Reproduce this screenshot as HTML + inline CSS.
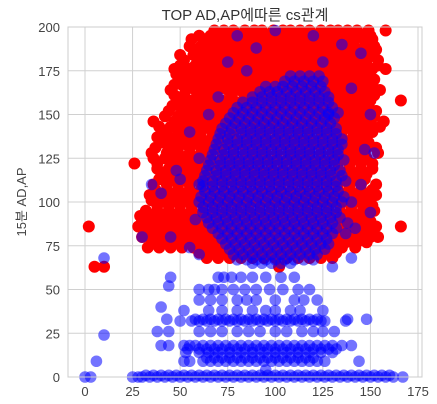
<!DOCTYPE html>
<html><head><meta charset="utf-8">
<style>
html,body{margin:0;padding:0;background:#fff;width:437px;height:404px;overflow:hidden}
svg{display:block;font-family:"Liberation Sans","Noto Sans CJK KR",sans-serif}
</style></head>
<body>
<svg id="chart" width="437" height="404" xmlns="http://www.w3.org/2000/svg">
<text x="245" y="20" text-anchor="middle" font-size="15" fill="#333">TOP AD,AP에따른 cs관계</text>
<text transform="translate(26,202) rotate(-90)" text-anchor="middle" font-size="13" fill="#444">15분 AD,AP</text>
<g id="grid"></g>
<g id="ticks"></g>
<g id="plot"></g>
<rect x="68" y="27" width="354" height="350" fill="none" stroke="#ccc" stroke-width="1"/>
</svg>
<script>
const xTicks=[0,25,50,75,100,125,150,175];
const yTicks=[0,25,50,75,100,125,150,175,200];
const redRows=[
[198,[68,73,78,84,89,93,99,104,108,113,118,124,129,133,138,143,149,158]],
[195,[60,66,71,76,82,87,92,97,103,108,113,119,124,130,135,140,145,150]],
[193,[56,63,69,74,79,85,90,95,101,106,111,116,121,127,132,137,142,147,151]],
[189,[55,61,66,71,77,82,87,93,98,104,109,114,120,125,131,136,141,147,152]],
[187,[58,64,68,73,80,84,91,96,100,107,112,117,123,128,133,138,144,150,153]],
[184,[50,57,63,69,75,80,86,91,97,102,108,113,119,124,130,135,141,146,151]],
[181,[52,60,66,71,77,83,88,94,99,105,110,116,121,126,132,137,143,148,154]],
[178,[50,58,64,69,75,81,86,92,98,103,109,114,120,125,131,136,142,148,154]],
[176,[47,55,61,67,72,78,84,89,95,101,106,112,117,123,128,134,139,145,151,158]],
[173,[48,53,59,65,70,76,82,87,93,99,104,110,115,121,126,132,138,143,149]],
[170,[50,56,62,68,73,79,85,90,96,102,107,113,118,124,129,135,141,146,152]],
[167,[47,51,56,61,67,72,78,84,89,95,100,106,112,117,123,128,134,140,145,151]],
[164,[45,53,58,64,70,75,81,87,92,98,103,109,115,120,126,131,137,142,148,155]],
[161,[47,52,59,64,69,77,84,90,95,101,106,112,118,123,129,134,140,146,152]],
[158,[49,55,61,66,72,78,83,89,94,100,106,111,117,122,128,134,139,145,150,166]],
[155,[46,53,58,64,69,75,81,86,92,97,103,109,114,120,125,131,137,143,149]],
[152,[44,51,57,63,68,74,80,85,91,96,102,108,113,119,124,130,136,141,147,153]],
[149,[42,49,55,61,67,72,78,84,89,95,100,106,112,117,123,129,135,140,146,152]],
[146,[36,47,53,59,65,70,76,82,87,93,99,104,110,116,121,127,133,138,144,150,157]],
[143,[39,45,51,57,63,68,74,80,86,91,97,103,108,114,119,125,131,137,143,149,155]],
[140,[42,49,55,61,67,72,78,84,89,95,101,106,112,118,124,129,135,141,147,151]],
[137,[38,44,50,56,61,67,73,78,84,90,95,101,106,112,118,124,130,135,141,146]],
[134,[40,46,52,58,64,69,75,81,86,92,98,104,109,115,121,126,132,138,143,149]],
[131,[37,44,49,55,61,67,72,78,84,89,95,101,107,113,118,124,130,136,142,148,153]],
[128,[35,43,49,55,61,66,72,78,84,90,95,101,107,112,118,124,130,135,141,147,154]],
[125,[36,42,48,54,60,66,72,78,84,89,95,101,107,113,118,124,130,136,142,148]],
[122,[26,38,45,51,57,63,69,75,81,86,92,98,104,110,115,121,127,133,139,145,151]],
[119,[38,44,50,56,62,68,74,80,86,92,98,104,110,116,121,127,133,139,145,151]],
[116,[41,47,53,59,65,71,77,83,89,95,101,107,112,118,124,130,136,142,148]],
[113,[39,45,51,57,63,69,75,81,87,93,99,105,111,117,123,129,135,141,147]],
[110,[36,43,49,55,61,67,73,79,85,91,97,103,109,115,121,127,133,139,145,153]],
[107,[37,43,49,55,61,67,73,79,85,91,97,103,109,115,121,127,133,139,145,151]],
[104,[34,40,46,52,58,64,70,76,82,88,94,100,106,112,118,124,130,136,142,148,153]],
[101,[35,41,47,53,59,65,71,77,83,89,95,101,107,113,119,125,131,137,143,149]],
[98,[38,44,50,56,62,68,74,80,86,92,98,104,110,116,122,128,134,140,146,151]],
[95,[32,38,44,50,56,62,68,74,80,86,92,98,104,110,116,122,128,134,140,146,152]],
[92,[29,35,41,47,53,59,65,71,77,83,89,95,101,107,113,119,125,131,137,143,149]],
[89,[30,36,42,48,54,60,66,72,78,84,90,96,102,108,114,120,126,132,138,144,150]],
[86,[2,28,33,39,45,51,57,63,69,75,81,87,93,99,105,111,117,123,129,135,141,147,153,166]],
[83,[31,37,43,49,55,61,67,73,79,85,91,97,103,109,115,121,127,133,139,145,151]],
[80,[30,36,42,48,54,60,66,72,78,84,90,96,102,108,114,120,126,132,138,144,150,154]],
[77,[35,41,47,53,59,65,71,77,83,89,95,101,107,113,119,125,131,137,143,148]],
[74,[33,39,45,51,57,63,69,75,81,87,93,99,105,111,117,123,129,135,142]],
[71,[60,66,72,78,84,90,96,102,108,114,120,126,132]],
[68,[64,70,76,82,88,94,100,106,112,118,124,130]],
[63,[5,10,102]]
];
const blueRows=[
[172,[108,113,118,123]],
[169,[105,110,115,120,125]],
[166,[95,100,104,109,114,119,124]],
[163,[92,97,101,106,111,116,121,126]],
[160,[88,93,98,103,108,113,118,123,128]],
[157,[83,88,93,98,103,108,113,118,123,128]],
[154,[80,85,90,95,100,105,110,115,120,125,130]],
[151,[78,83,88,93,98,103,108,113,118,123,128,133]],
[148,[76,81,86,91,96,101,106,111,116,121,126,131]],
[145,[74,79,84,89,94,99,104,109,114,119,124,129]],
[142,[72,77,82,87,92,97,102,107,112,117,122,127,132]],
[139,[71,76,82,87,92,97,102,107,112,117,122,127,132]],
[136,[70,75,80,85,90,95,100,105,110,115,120,125,130,135]],
[133,[69,75,80,85,90,95,100,105,110,115,120,125,130,135]],
[130,[68,73,78,83,88,93,98,103,108,113,118,123,128,133]],
[127,[67,73,78,83,88,93,98,103,108,113,118,123,128,133]],
[124,[66,71,76,81,86,91,96,101,106,111,116,121,126,131,136]],
[121,[65,71,76,81,86,91,96,101,106,111,116,121,126,131]],
[118,[64,69,74,79,84,89,94,99,104,109,114,119,124,129,134]],
[115,[63,69,74,79,84,89,94,99,104,109,114,119,124,129,135]],
[112,[62,67,72,77,82,87,92,97,102,107,112,117,122,127,132,137]],
[109,[62,67,72,77,82,87,92,97,102,107,112,117,122,127,132]],
[106,[63,68,73,78,83,88,93,98,103,108,113,118,123,128,133]],
[103,[61,66,71,76,81,86,91,96,101,106,111,116,121,126,131,136]],
[100,[60,65,70,75,80,85,90,95,100,105,110,115,120,125,130,135]],
[97,[62,67,72,77,82,87,92,97,102,107,112,117,122,127,132]],
[94,[62,67,72,77,82,87,92,97,102,107,112,117,122,127,132]],
[91,[64,69,74,79,84,89,94,99,104,109,114,119,124,129,134]],
[88,[65,70,75,80,85,90,95,100,105,110,115,120,125,130,138]],
[85,[67,72,77,82,87,92,97,102,107,112,117,122,127,132]],
[82,[70,75,80,85,90,95,100,105,110,115,120,125,130,137]],
[79,[72,77,82,87,92,97,102,107,112,117,122,127]],
[76,[74,79,84,89,94,99,104,109,114,119,124,128]],
[73,[76,81,86,91,96,101,106,111,116,121,126]],
[70,[78,83,88,93,98,103,108,113,118,122]],
[67,[80,85,90,95,100,105,110,115,120]],
[65,[88,93,98,103,108]],
[57,[70,73,77,82,88,95,103,110]],
[50,[60,65,68,72,78,84,90,97,104,112,118]],
[44,[60,66,72,80,85,90,100,110,115,122]],
[38,[52,65,72,80,88,95,100,108,113,125]],
[33,[58,62,66,70,74,78,82,86,90,94,98,102,106,110,114,118,122]],
[32,[50,56,60,64,68,72,76,80,84,88,92,96,100,104,108,112,116,120,124,126,137]],
[26,[38,44,60,66,72,80,86,92,100,106,114,120,125,131]],
[18,[40,44,52,55,58,62,66,70,74,78,82,86,90,94,98,102,106,110,114,118,122,126,130,135,140]],
[16,[54,60,64,68,72,76,80,84,88,92,96,100,104,108,112,116,120,124,128,132]],
[14,[53,60,65,70,76,82,88,94,100,106,112,118,124,130]],
[11,[64,68,72,76,80,84,88,92,96,100,104,108,112,116,120]],
[9,[52,55,62,66,70,74,78,82,86,90,94,98,102,106,110,114,118,122,126,144]],
[4,[95]],
[0,[0,3,25,28,30,34,38,42,46,50,54,58,62,66,70,74,78,82,86,90,94,98,102,106,110,114,118,122,126,130,134,138,142,146,150,154,158,162,167]],
[1,[32,36,40,44,48,52,56,60,64,68,72,76,80,84,88,92,96,100,104,108,112,116,120,124,128,132,136,140,144,148,152,156,160]]
];
const blueSparseX=[55,60,48,40,35,45,30,10,10,6,40,43,45,44,60,75,80,90,100,120,135,145,140,150,147,152,150,148,138,140,130,55,60,58,50,140,145,142,85,125,128,65,70];
const blueSparseY=[140,125,118,105,110,80,80,68,24,9,40,33,57,52,110,180,195,188,198,195,190,185,165,150,130,128,94,33,33,68,63,74,70,90,113,100,110,85,175,180,150,150,160];

const NS="http://www.w3.org/2000/svg";
const L=68,R=422,T=27,B=377;
const xs=v=>85+v*(418-85)/175;
const ys=v=>B-v*(B-T)/200;
const grid=document.getElementById('grid'),ticks=document.getElementById('ticks'),plot=document.getElementById('plot');
function mk(tag,attrs,parent){const e=document.createElementNS(NS,tag);for(const k in attrs)e.setAttribute(k,attrs[k]);parent.appendChild(e);return e;}
xTicks.forEach(t=>{
  const g=mk('line',{x1:xs(t),x2:xs(t),y1:T,y2:B,stroke:'#d0d0d0'},grid);
  
  
  const tx=mk('text',{x:xs(t),y:396,'text-anchor':'middle','font-size':'13',fill:'#444'},ticks);
  tx.textContent=t;
  
  
});
yTicks.forEach(t=>{
  const g=mk('line',{x1:L,x2:R,y1:ys(t),y2:ys(t),stroke:'#d0d0d0'},grid);
  
  
  const tx=mk('text',{x:60,y:ys(t)+5,'text-anchor':'end','font-size':'13',fill:'#444'},ticks);
  tx.textContent=t;
  
  
});
const clip=mk('clipPath',{id:'pc'},document.getElementById('chart'));
mk('rect',{x:L,y:T-6,width:R-L+2,height:B-T+12},clip);
plot.setAttribute('clip-path','url(#pc)');
redRows.forEach(([y,xl])=>xl.forEach(x=>{
  const c=mk('circle',{cx:xs(x),cy:ys(y),r:6,fill:'#ff0000'},plot);
  
  
}));
blueRows.forEach(([y,xl])=>xl.forEach(x=>{
  const c=mk('circle',{cx:xs(x),cy:ys(y),r:5.8,fill:'#0000ff','fill-opacity':0.55},plot);
  
  
}));
blueSparseX.forEach((x,i)=>{
  const c=mk('circle',{cx:xs(x),cy:ys(blueSparseY[i]),r:5.8,fill:'#0000ff','fill-opacity':0.55},plot);
  
  
});
</script>
</body></html>
